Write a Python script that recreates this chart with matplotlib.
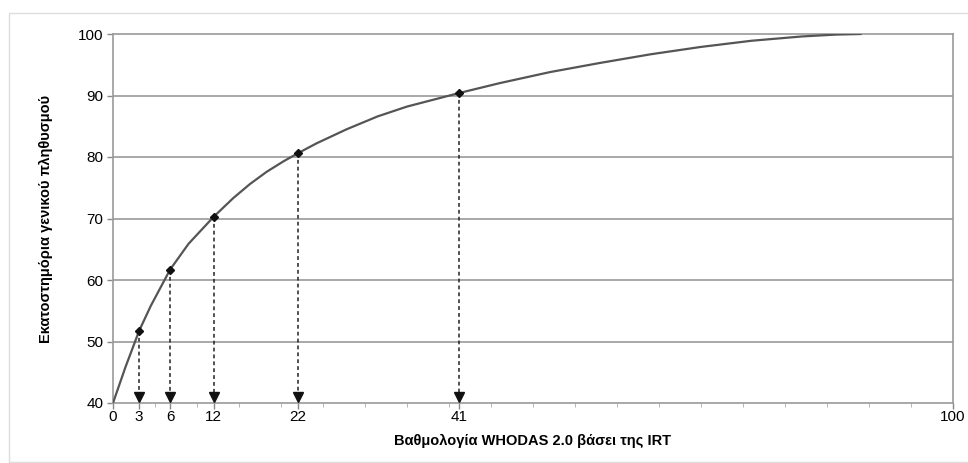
import matplotlib.pyplot as plt
from matplotlib.patches import Rectangle

plt.rcParams['font.family'] = ['Liberation Sans', 'DejaVu Sans']

# curve
curve_x = [0, 1.5, 3.1, 4.5, 6.8, 9, 12, 14.3, 16.3, 18.3, 20.3, 22, 24.2, 27.8,
           31.5, 35, 41.2, 46, 52, 58, 64, 70, 76, 82, 86, 89]
curve_y = [40, 45.9, 51.7, 55.8, 61.7, 65.9, 70.3, 73.3, 75.6, 77.6, 79.3, 80.6,
           82.2, 84.5, 86.6, 88.2, 90.4, 92.0, 93.8, 95.3, 96.7, 97.9, 98.9,
           99.6, 99.9, 100]

# marked points (positions as drawn in the picture)
mark_x = [3.1, 6.8, 12.0, 22.0, 41.2]
mark_y = [51.7, 61.7, 70.3, 80.6, 90.4]
mark_labels = ['3', '6', '12', '22', '41']

ytick_vals = [40, 50, 60, 70, 80, 90, 100]

fig = plt.figure(figsize=(9.68, 4.63), dpi=100)
ax = fig.add_axes([113 / 968, 1 - 403 / 463, 840 / 968, 369 / 463])

# outer frame
fig.patches.append(Rectangle((9 / 968, 1 - 462 / 463), 1.2, 449 / 463,
                             transform=fig.transFigure, fill=False,
                             edgecolor='#dddddd', lw=1))

for yv in ytick_vals[1:-1]:
    ax.axhline(yv, color='#999999', lw=1.2, zorder=1)

ax.plot(curve_x, curve_y, color='#555555', lw=1.6, zorder=3,
        solid_joinstyle='round')

for xv, yv in zip(mark_x, mark_y):
    ax.plot([xv, xv], [yv, 41.5], color='#222222', lw=1.1, ls=(0, (2.5, 2)), zorder=2)
    ax.plot(xv, 41.0, marker='v', color='#111111', ms=7, clip_on=False, zorder=4)

ax.plot(mark_x, mark_y, ls='none', marker='D', color='#111111', ms=4.5, zorder=5)

ax.set_xlim(0, 100)
ax.set_ylim(40, 100)
ax.set_xticks([0] + mark_x + [100])
ax.set_xticklabels(['0'] + mark_labels + ['100'])
ax.set_xticks(range(5, 100, 5), minor=True)
ax.set_yticks(ytick_vals)
ax.tick_params(axis='both', labelsize=11, color='#888888', length=4, width=1, pad=1)
ax.tick_params(axis='x', which='minor', color='#aaaaaa', length=3)
ax.tick_params(axis='y', pad=3)

for sp in ax.spines.values():
    sp.set_color('#999999')
    sp.set_linewidth(1.2)

ax.set_xlabel('Βαθμολογία WHODAS 2.0 βάσει της IRT', fontsize=10.5,
              fontweight='bold', labelpad=7)
ax.set_ylabel('Εκατοστημόρια γενικού πληθυσμού', fontsize=10.5,
              fontweight='bold', labelpad=18)

fig.savefig('out.png', dpi=100)
